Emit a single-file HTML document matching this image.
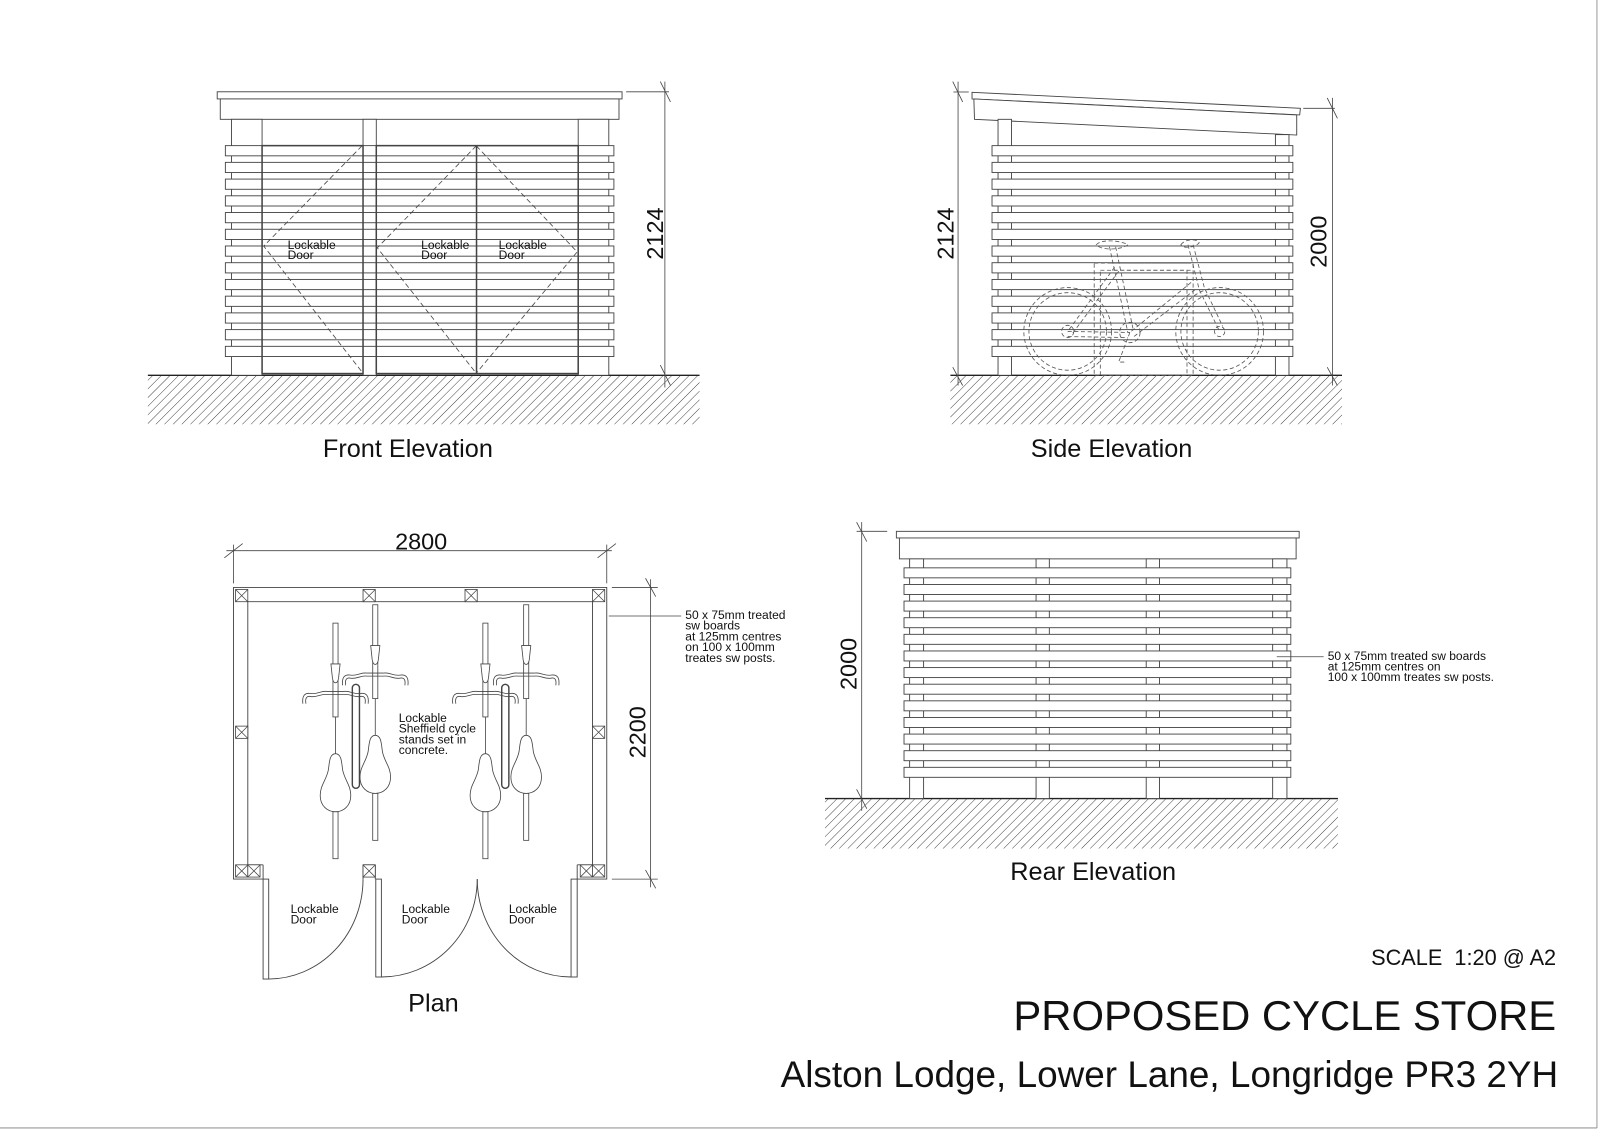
<!DOCTYPE html>
<html><head><meta charset="utf-8"><style>
html,body{margin:0;padding:0;background:#fff;}
svg{display:block;}
text{font-family:"Liberation Sans",Arial,sans-serif;fill:#111;}
.s{font-size:11.8px;}
.cap{font-size:24.8px;}
.dim{font-size:23px;}
</style></head><body>
<svg width="1600" height="1131" viewBox="0 0 1569 1109" preserveAspectRatio="none" xmlns="http://www.w3.org/2000/svg">
<defs>
<pattern id="h" width="6" height="6" patternUnits="userSpaceOnUse" patternTransform="rotate(45)">
<line x1="0" y1="0" x2="0" y2="6" stroke="#333" stroke-width="0.9"/>
</pattern>
<g id="post"><rect x="0" y="0" width="12" height="12" fill="#fff" stroke="#444" stroke-width="0.8"/><path d="M0,0L12,12M12,0L0,12" stroke="#444" stroke-width="0.7"/></g>
<g id="bike" fill="#fff" stroke="#444" stroke-width="0.8">
<rect x="-2.5" y="611" width="5" height="92"/>
<path d="M-4.5,651 L4.5,651 L3,665 C2,671 -2,671 -3,665 Z"/>
<line x1="0" y1="703" x2="0" y2="739"/>
<path d="M0,739 C-6,739 -6,748 -7,755 C-9,765 -15,770 -15,780 C-15,790 -8,796 0,796 C8,796 15,790 15,780 C15,770 9,765 7,755 C6,748 6,739 0,739Z"/>
<rect x="-2.5" y="796" width="5" height="46"/>
<path fill="none" d="M-32,690 C-33,682 -30,679 -24,680 C-18,681 -14,677 -8,678 L8,678 C14,677 18,681 24,680 C30,679 33,682 32,690"/>
<path fill="none" d="M-29,690 C-30,684 -28,682 -24,683 C-18,684 -14,680 -8,681 L8,681 C14,680 18,684 24,683 C28,682 30,684 29,690"/>
</g>
</defs>

<line x1="1566" y1="0" x2="1566" y2="1106" stroke="#999" stroke-width="1"/>
<line x1="0" y1="1106" x2="1566" y2="1106" stroke="#999" stroke-width="1"/>

<!-- FRONT -->
<g stroke="#444" stroke-width="0.9" fill="#fff">
<rect x="145" y="368" width="541" height="48" fill="url(#h)" stroke="none"/>
<line x1="145" y1="368" x2="686" y2="368" stroke="#222" stroke-width="1.3"/>
<rect x="213" y="90" width="397" height="7"/>
<rect x="216" y="97" width="391" height="20"/>
<rect x="227" y="117" width="30" height="251"/>
<rect x="356" y="117" width="13" height="251"/>
<rect x="567" y="117" width="30" height="251"/>
<g>
<rect x="221" y="142.8" width="381" height="10"/><rect x="221" y="159.2" width="381" height="10"/><rect x="221" y="175.6" width="381" height="10"/><rect x="221" y="192" width="381" height="10"/><rect x="221" y="208.4" width="381" height="10"/><rect x="221" y="224.8" width="381" height="10"/><rect x="221" y="241.2" width="381" height="10"/><rect x="221" y="257.6" width="381" height="10"/><rect x="221" y="274" width="381" height="10"/><rect x="221" y="290.4" width="381" height="10"/><rect x="221" y="306.8" width="381" height="10"/><rect x="221" y="323.2" width="381" height="10"/><rect x="221" y="339.6" width="381" height="10"/>
</g>
<g fill="none" stroke-width="1.5">
<rect x="257" y="142.8" width="99" height="223.5"/>
<rect x="369" y="142.8" width="198" height="223.5"/>
<line x1="467.3" y1="142.8" x2="467.3" y2="366.3"/>
</g>
<g fill="none" stroke-dasharray="5,3" stroke-width="0.8">
<path d="M355,143 L258.6,241.3 L356,366"/>
<path d="M467,143 L370,243 L467,366"/>
<path d="M467,143 L566,247 L467,366"/>
</g>
<line x1="652" y1="80" x2="652" y2="380" stroke-width="0.8"/>
<line x1="614" y1="90" x2="656" y2="90" stroke-width="0.8"/>
<line x1="647.5" y1="80" x2="657.5" y2="100" stroke-width="0.8"/>
<line x1="647.5" y1="358" x2="657.5" y2="378" stroke-width="0.8"/>
</g>
<text class="s" x="282" y="244">Lockable</text><text class="s" x="282" y="254">Door</text>
<text class="s" x="413" y="244">Lockable</text><text class="s" x="413" y="254">Door</text>
<text class="s" x="489" y="244">Lockable</text><text class="s" x="489" y="254">Door</text>
<text class="dim" transform="translate(650,229) rotate(-90)" text-anchor="middle">2124</text>
<text class="cap" x="400" y="448" text-anchor="middle">Front Elevation</text>

<!-- SIDE -->
<g stroke="#444" stroke-width="0.9" fill="#fff">
<rect x="932" y="368" width="384" height="48" fill="url(#h)" stroke="none"/>
<line x1="932" y1="368" x2="1316" y2="368" stroke="#222" stroke-width="1.3"/>
<polygon points="953.2,90.5 1275.2,106.2 1274.5,112.7 953.2,97"/>
<polygon points="955,97 1271.6,112.7 1271.6,132.4 955.6,117"/>
<rect x="978.7" y="117" width="13.2" height="251"/>
<rect x="1250.7" y="132" width="13.3" height="236"/>
<g>
<rect x="972.8" y="142.8" width="295" height="10"/><rect x="972.8" y="159.2" width="295" height="10"/><rect x="972.8" y="175.6" width="295" height="10"/><rect x="972.8" y="192" width="295" height="10"/><rect x="972.8" y="208.4" width="295" height="10"/><rect x="972.8" y="224.8" width="295" height="10"/><rect x="972.8" y="241.2" width="295" height="10"/><rect x="972.8" y="257.6" width="295" height="10"/><rect x="972.8" y="274" width="295" height="10"/><rect x="972.8" y="290.4" width="295" height="10"/><rect x="972.8" y="306.8" width="295" height="10"/><rect x="972.8" y="323.2" width="295" height="10"/><rect x="972.8" y="339.6" width="295" height="10"/>
</g>
<g fill="none" stroke="#555" stroke-width="0.8" stroke-dasharray="4,2.5">
<circle cx="1047" cy="325" r="43"/><circle cx="1047" cy="325" r="38"/>
<circle cx="1196" cy="325" r="43"/><circle cx="1196" cy="325" r="38"/>
<circle cx="1047" cy="325" r="6"/><circle cx="1196" cy="325" r="5"/>
<circle cx="1108" cy="326" r="10"/>
<path d="M1075,240 C1080,234 1100,236 1106,240 C1100,245 1080,246 1075,240Z"/>
<path d="M1158,240 C1162,234 1174,234 1176,238 C1172,243 1160,244 1158,240Z"/>
<path d="M1088,242 L1106,326 M1094,242 L1111,322"/>
<path d="M1090,258 L1167,258 M1092,265 L1168,265"/>
<path d="M1165,240 L1176,284 L1196,325 M1170,240 L1181,282 L1199,320"/>
<path d="M1168,277 L1108,326 M1172,284 L1112,330"/>
<path d="M1093,262 L1047,325 M1097,266 L1051,328"/>
<path d="M1047,325 L1108,326 M1047,330 L1106,331"/>
<path d="M1108,326 L1097,355 L1105,355"/>
<rect x="1073" y="258" width="97" height="110"/>
<rect x="1079" y="265" width="85" height="103"/>
</g>
<line x1="939.5" y1="80" x2="939.5" y2="378" stroke-width="0.8"/>
<line x1="935" y1="90.2" x2="950" y2="90.2" stroke-width="0.8"/>
<line x1="934.3" y1="80" x2="944" y2="100" stroke-width="0.8"/>
<line x1="934.3" y1="360" x2="944" y2="378" stroke-width="0.8"/>
<line x1="1306.6" y1="96" x2="1306.6" y2="378" stroke-width="0.8"/>
<line x1="1278" y1="106.2" x2="1309" y2="106.2" stroke-width="0.8"/>
<line x1="1301.5" y1="96" x2="1311.5" y2="116" stroke-width="0.8"/>
<line x1="1301.5" y1="360" x2="1311.5" y2="378" stroke-width="0.8"/>
</g>
<text class="dim" transform="translate(935,229) rotate(-90)" text-anchor="middle">2124</text>
<text class="dim" transform="translate(1301,237) rotate(-90)" text-anchor="middle">2000</text>
<text class="cap" x="1090" y="448" text-anchor="middle">Side Elevation</text>

<!-- PLAN -->
<g stroke="#444" stroke-width="0.9" fill="none">
<line x1="222" y1="540" x2="600" y2="540" stroke-width="0.8"/>
<line x1="229" y1="534" x2="229" y2="572" stroke-width="0.8"/>
<line x1="595" y1="534" x2="595" y2="572" stroke-width="0.8"/>
<line x1="220" y1="547" x2="238" y2="533" stroke-width="0.8"/>
<line x1="586" y1="547" x2="604" y2="533" stroke-width="0.8"/>
<path d="M258,862 L229,862 L229,576 L595,576 L595,862 L566,862"/>
<path d="M258,848 L243,848 L243,590 L581,590 L581,848 L566,848"/>
<path d="M356,848 L356,862 M368,848 L368,862 M356,848 L368,848"/>
<rect x="258" y="862" width="5.5" height="98" fill="#fff"/>
<rect x="368.5" y="862" width="5.5" height="96" fill="#fff"/>
<rect x="560" y="862" width="6" height="96" fill="#fff"/>
<path d="M356,862 A93,98 0 0 1 263.5,960"/>
<path d="M468,862 A94,96 0 0 1 374,958"/>
<path d="M468,862 A92,96 0 0 0 560,958"/>
<line x1="258" y1="848" x2="258" y2="862"/>
<line x1="566" y1="848" x2="566" y2="862"/>
<line x1="638" y1="568" x2="638" y2="870" stroke-width="0.8"/>
<line x1="600" y1="576" x2="645" y2="576" stroke-width="0.8"/>
<line x1="600" y1="862" x2="645" y2="862" stroke-width="0.8"/>
<line x1="633" y1="567" x2="643" y2="585" stroke-width="0.8"/>
<line x1="633" y1="853" x2="643" y2="871" stroke-width="0.8"/>
<line x1="597" y1="604" x2="668" y2="604" stroke-width="0.8"/>
</g>
<use href="#post" x="231" y="578"/><use href="#post" x="356" y="578"/><use href="#post" x="456" y="578"/><use href="#post" x="581" y="578"/>
<use href="#post" x="231" y="712"/><use href="#post" x="581" y="712"/>
<use href="#post" x="231" y="848"/><use href="#post" x="243" y="848"/><use href="#post" x="356" y="848"/>
<use href="#post" x="569" y="848"/><use href="#post" x="581" y="848"/>
<use href="#bike" transform="translate(329,0)"/>
<use href="#bike" transform="translate(368,-18)"/>
<use href="#bike" transform="translate(476,0)"/>
<use href="#bike" transform="translate(516,-18)"/>
<g fill="none" stroke="#444" stroke-width="1.4">
<rect x="345.5" y="671" width="7" height="102" rx="3.5"/>
<rect x="492" y="671" width="7" height="102" rx="3.5"/>
</g>
<text class="dim" x="413" y="539" text-anchor="middle">2800</text>
<text class="dim" transform="translate(633,718) rotate(-90)" text-anchor="middle">2200</text>
<text class="s" x="391" y="708">Lockable</text>
<text class="s" x="391" y="718.5">Sheffield cycle</text>
<text class="s" x="391" y="729">stands set in</text>
<text class="s" x="391" y="739.5">concrete.</text>
<text class="s" x="672" y="607">50 x 75mm treated</text>
<text class="s" x="672" y="617.5">sw boards</text>
<text class="s" x="672" y="628">at 125mm centres</text>
<text class="s" x="672" y="638.5">on 100 x 100mm</text>
<text class="s" x="672" y="649">treates sw posts.</text>
<text class="s" x="285" y="895">Lockable</text><text class="s" x="285" y="905.5">Door</text>
<text class="s" x="394" y="895">Lockable</text><text class="s" x="394" y="905.5">Door</text>
<text class="s" x="499" y="895">Lockable</text><text class="s" x="499" y="905.5">Door</text>
<text class="cap" x="425" y="992" text-anchor="middle">Plan</text>

<!-- REAR -->
<g stroke="#444" stroke-width="0.9" fill="#fff">
<rect x="809" y="783" width="503" height="49" fill="url(#h)" stroke="none"/>
<line x1="809" y1="783" x2="1312" y2="783" stroke="#222" stroke-width="1.3"/>
<rect x="879" y="521" width="395" height="6.5"/>
<rect x="882" y="527.5" width="389" height="20.5"/>
<rect x="892" y="548" width="13.7" height="235"/>
<rect x="1016" y="548" width="13" height="235"/>
<rect x="1124" y="548" width="13" height="235"/>
<rect x="1248" y="548" width="14" height="235"/>
<g>
<rect x="886.5" y="556.8" width="379.3" height="9.8"/><rect x="886.5" y="573.1" width="379.3" height="9.8"/><rect x="886.5" y="589.4" width="379.3" height="9.8"/><rect x="886.5" y="605.7" width="379.3" height="9.8"/><rect x="886.5" y="622" width="379.3" height="9.8"/><rect x="886.5" y="638.3" width="379.3" height="9.8"/><rect x="886.5" y="654.6" width="379.3" height="9.8"/><rect x="886.5" y="670.9" width="379.3" height="9.8"/><rect x="886.5" y="687.2" width="379.3" height="9.8"/><rect x="886.5" y="703.5" width="379.3" height="9.8"/><rect x="886.5" y="719.8" width="379.3" height="9.8"/><rect x="886.5" y="736.1" width="379.3" height="9.8"/><rect x="886.5" y="752.4" width="379.3" height="9.8"/>
</g>
<line x1="845" y1="512" x2="845" y2="795" stroke-width="0.8"/>
<line x1="840" y1="521" x2="870" y2="521" stroke-width="0.8"/>
<line x1="840" y1="512" x2="850" y2="531" stroke-width="0.8"/>
<line x1="840" y1="774" x2="850" y2="793" stroke-width="0.8"/>
<line x1="1252" y1="644" x2="1298" y2="644" stroke-width="0.8"/>
</g>
<text class="dim" transform="translate(840,651) rotate(-90)" text-anchor="middle">2000</text>
<text class="s" x="1302" y="647">50 x 75mm treated sw boards</text>
<text class="s" x="1302" y="657.5">at 125mm centres on</text>
<text class="s" x="1302" y="668">100 x 100mm treates sw posts.</text>
<text class="cap" x="1072" y="863" text-anchor="middle">Rear Elevation</text>

<!-- TITLES -->
<text x="1526" y="946" text-anchor="end" style="font-size:21.3px" xml:space="preserve">SCALE  1:20 @ A2</text>
<text x="1526" y="1010" text-anchor="end" style="font-size:41px">PROPOSED CYCLE STORE</text>
<text x="1528" y="1066" text-anchor="end" style="font-size:36.2px">Alston Lodge, Lower Lane, Longridge PR3 2YH</text>
</svg>
</body></html>
